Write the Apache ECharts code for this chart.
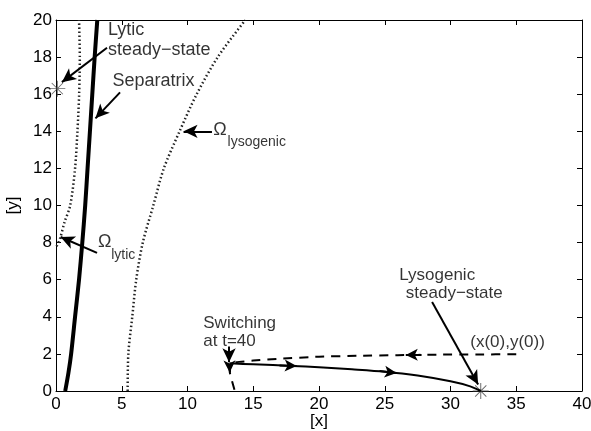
<!DOCTYPE html>
<html>
<head>
<meta charset="utf-8">
<script src="https://cdn.jsdelivr.net/npm/echarts@6/dist/echarts.min.js"></script>
<style>
html,body{margin:0;padding:0;background:#fff;}
#c{width:591px;height:431px;}
</style>
</head>
<body>
<div id="c"></div>
<script>
// ---- data ----
const xTicks = [0, 5, 10, 15, 20, 25, 30, 35, 40];
const yTicks = [0, 2, 4, 6, 8, 10, 12, 14, 16, 18, 20];

const separatrixX = [0.7, 0.95, 1.15, 1.45, 1.75, 2.0, 2.22, 2.4, 2.58, 2.76, 2.94, 3.14];
const separatrixY = [0, 1, 2, 4, 6, 8, 10, 12, 14, 16, 18, 20];

const lyticBoundaryX = [0.05, 0.3, 0.65, 1.08, 1.45, 1.63, 1.76, 1.81, 1.75];
const lyticBoundaryY = [7.8, 8.2, 9.1, 10, 12, 14, 16, 18, 20];

const lysoBoundaryX = [5.45, 5.5, 5.8, 6.1, 6.6, 7.4, 8.2, 9.4, 10.7, 12.3, 14.4];
const lysoBoundaryY = [0, 2, 4, 6, 8, 10, 12, 14, 16, 18, 20];

const dashedTrajX = [35.0, 32, 29, 26, 23, 20, 17, 15, 14.1, 13.3, 13.2, 13.4, 13.6];
const dashedTrajY = [1.98, 1.97, 1.96, 1.93, 1.9, 1.85, 1.74, 1.64, 1.58, 1.5, 1.1, 0.5, 0];

const solidTrajX = [13.2, 15, 18, 20, 22.5, 25, 27.5, 30, 31.5, 32.3];
const solidTrajY = [1.49, 1.44, 1.35, 1.28, 1.17, 1.04, 0.83, 0.52, 0.25, 0];

const steadyStatesX = [0.1, 32.3];
const steadyStatesY = [16.3, 0];

// flow-direction arrowheads on trajectories: [x1, y1, x2, y2]
const flowArrows = [
  [17.0, 1.38, 18.3, 1.345],
  [24.6, 1.08, 25.9, 0.97],
  [27.8, 1.95, 26.6, 1.94],
  [13.2, 1.35, 13.21, 1.0]
];

// annotation arrows: [fromX, fromY, toX, toY]
const annotArrows = [
  [3.88, 18.5, 0.45, 16.65],
  [4.87, 16.1, 3.0, 14.7],
  [11.86, 14.0, 9.7, 14.0],
  [3.12, 7.45, 0.35, 8.3],
  [28.6, 4.8, 32.1, 0.35],
  [13.16, 2.4, 13.16, 1.55]
];

// annotation texts: [x, y, text, fontSize]
const annotTexts = [
  [3.95, 19.45, 'Lytic', 18],
  [3.95, 18.4, 'steady\u2212state', 18],
  [4.3, 16.7, 'Separatrix', 18],
  [11.95, 14.05, '\u03A9', 18],
  [13.05, 13.4, 'lysogenic', 14],
  [3.2, 8.05, '\u03A9', 18],
  [4.2, 7.35, 'lytic', 14],
  [26.1, 6.25, 'Lysogenic', 17],
  [26.6, 5.25, 'steady\u2212state', 17],
  [11.2, 3.65, 'Switching', 17],
  [11.2, 2.7, 'at t=40', 17],
  [31.5, 2.62, '(x(0),y(0))', 17]
];

function zip(xs, ys) { return xs.map((x, i) => [x, ys[i]]); }

const FONT = 'Liberation Sans, Arial, Helvetica, sans-serif';
const INK = '#000';

const asterisk = 'path://M47 0L53 0L53 100L47 100ZM0 47L100 47L100 53L0 53ZM13 17L17 13L87 83L83 87ZM83 13L87 17L17 87L13 83Z';

const chart = echarts.init(document.getElementById('c'), null, {renderer: 'canvas'});

const option = {
  animation: false,
  backgroundColor: '#fff',
  grid: {left: 56, right: 9, top: 20, bottom: 40, containLabel: false, outerBoundsMode: 'none'},
  xAxis: [
    {
      type: 'value', min: xTicks[0], max: xTicks[xTicks.length - 1], interval: 5,
      position: 'bottom',
      name: '[x]', nameLocation: 'middle', nameGap: 22, nameMoveOverlap: false,
      nameTextStyle: {color: INK, fontSize: 17, fontFamily: FONT},
      axisLine: {show: true, onZero: false, lineStyle: {color: INK, width: 1}},
      axisTick: {show: true, inside: true, length: 5, lineStyle: {color: INK}},
      axisLabel: {color: INK, fontSize: 17, fontFamily: FONT, margin: 5},
      splitLine: {show: false}
    },
    {
      type: 'value', min: xTicks[0], max: xTicks[xTicks.length - 1], interval: 5,
      position: 'top',
      axisLine: {show: true, onZero: false, lineStyle: {color: INK, width: 1}},
      axisTick: {show: true, inside: true, length: 5, lineStyle: {color: INK}},
      axisLabel: {show: false},
      splitLine: {show: false}
    }
  ],
  yAxis: [
    {
      type: 'value', min: yTicks[0], max: yTicks[yTicks.length - 1], interval: 2,
      position: 'left',
      name: '[y]', nameLocation: 'middle', nameGap: 34, nameRotate: 90,
      nameTextStyle: {color: INK, fontSize: 17, fontFamily: FONT},
      axisLine: {show: true, onZero: false, lineStyle: {color: INK, width: 1}},
      axisTick: {show: true, inside: true, length: 5, lineStyle: {color: INK}},
      axisLabel: {color: INK, fontSize: 17, fontFamily: FONT, margin: 4},
      splitLine: {show: false}
    },
    {
      type: 'value', min: yTicks[0], max: yTicks[yTicks.length - 1], interval: 2,
      position: 'right',
      axisLine: {show: true, onZero: false, lineStyle: {color: INK, width: 1}},
      axisTick: {show: true, inside: true, length: 5, lineStyle: {color: INK}},
      axisLabel: {show: false},
      splitLine: {show: false}
    }
  ],
  series: [
    {
      name: 'Omega lytic', type: 'line', data: zip(lyticBoundaryX, lyticBoundaryY),
      smooth: 0.3, showSymbol: false, clip: true,
      lineStyle: {color: '#222', width: 2.5, type: [1.5, 2.5]}
    },
    {
      name: 'Omega lysogenic', type: 'line', data: zip(lysoBoundaryX, lysoBoundaryY),
      smooth: 0.3, showSymbol: false, clip: true,
      lineStyle: {color: '#222', width: 2.5, type: [1.5, 2.5]}
    },
    {
      name: 'Separatrix', type: 'line', data: zip(separatrixX, separatrixY),
      smooth: 0.3, showSymbol: false, clip: true,
      lineStyle: {color: INK, width: 4}
    },
    {
      name: 'Dashed trajectory', type: 'line', data: zip(dashedTrajX, dashedTrajY),
      smooth: 0.2, showSymbol: false, clip: true,
      lineStyle: {color: INK, width: 2, type: [9, 7]}
    },
    {
      name: 'Solid trajectory', type: 'line', data: zip(solidTrajX, solidTrajY),
      smooth: 0.3, showSymbol: false, clip: true,
      lineStyle: {color: INK, width: 2}
    },
    {
      name: 'Steady states', type: 'scatter', data: zip(steadyStatesX, steadyStatesY),
      symbol: asterisk, symbolSize: 16, clip: false,
      itemStyle: {color: '#444'}
    },
    {
      name: 'Arrows', type: 'line', data: [], showSymbol: false,
      markLine: {
        silent: true, animation: false,
        symbol: ['none', 'arrow'],
        label: {show: false},
        emphasis: {disabled: true},
        data: annotArrows.map(a => [
          {coord: [a[0], a[1]], symbolSize: 0},
          {coord: [a[2], a[3]], symbolSize: [10, 14]}
        ]).concat(flowArrows.map(a => [
          {coord: [a[0], a[1]], symbolSize: 0},
          {coord: [a[2], a[3]], symbolSize: [9, 12]}
        ])),
        lineStyle: {color: INK, width: 2, type: 'solid'}
      }
    },
    {
      name: 'Texts', type: 'scatter', symbolSize: 0, clip: false,
      data: annotTexts.map(t => ({
        value: [t[0], t[1]],
        label: {
          show: true, position: 'right', distance: 0,
          formatter: t[2], fontSize: t[3], fontFamily: FONT, color: INK,
          verticalAlign: 'middle'
        }
      }))
    }
  ]
};

chart.setOption(option);
</script>
</body>
</html>
